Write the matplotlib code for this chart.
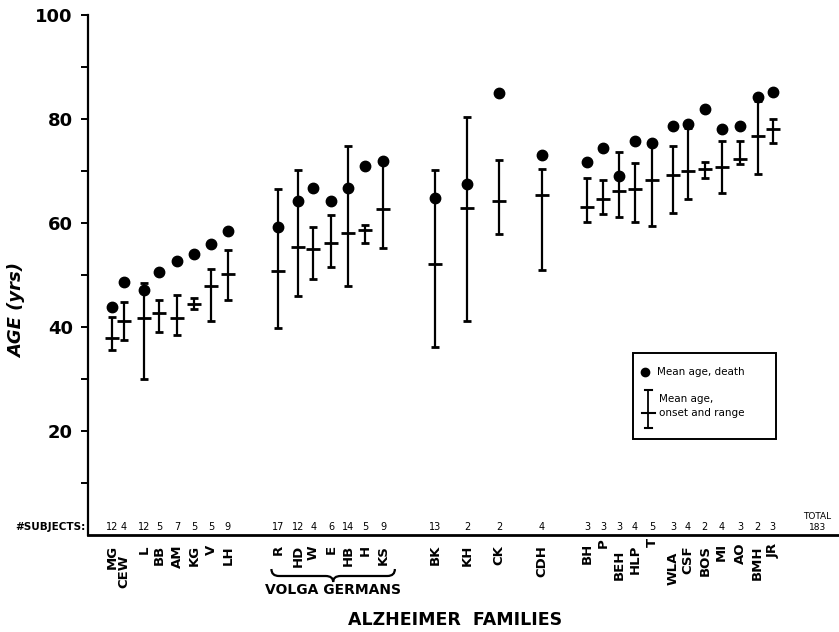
import matplotlib
matplotlib.use("Agg")
import matplotlib.pyplot as plt
import matplotlib.transforms as mtransforms
from matplotlib.path import Path
from matplotlib.patches import PathPatch, Rectangle
from matplotlib.lines import Line2D
import numpy as np

# ---------------- data ----------------
families = ['MG', 'CEW', 'L', 'BB', 'AM', 'KG', 'V', 'LH',
            'R', 'HD', 'W', 'E', 'HB', 'H', 'KS',
            'BK', 'KH', 'CK', 'CDH',
            'BH', 'P', 'BEH', 'HLP', 'T', 'WLA', 'CSF', 'BOS', 'MI', 'AO', 'BMH', 'JR']
n_subjects = [12, 4, 12, 5, 7, 5, 5, 9,
              17, 12, 4, 6, 14, 5, 9,
              13, 2, 2, 4,
              3, 3, 3, 4, 5, 3, 4, 2, 4, 3, 2, 3]
death_mean = [43.9, 48.7, 47.2, 50.6, 52.6, 54.0, 56.0, 58.5,
              59.3, 64.3, 66.7, 64.3, 66.7, 71.0, 72.0,
              64.9, 67.5, 85.0, 73.1,
              71.7, 74.4, 69.0, 75.8, 75.4, 78.7, 79.0, 81.9, 78.0, 78.7, 84.2, 85.1]
onset_mean = [37.9, 41.2, 41.7, 42.6, 41.7, 44.5, 47.9, 50.1,
              50.8, 55.3, 55.0, 56.1, 58.0, 58.7, 62.6,
              52.2, 62.8, 64.3, 65.4,
              63.0, 64.6, 66.2, 66.5, 68.3, 69.2, 70.0, 70.3, 70.8, 72.4, 76.7, 78.0]
onset_low = [35.6, 37.5, 30.0, 39.0, 38.5, 43.4, 41.2, 45.1,
             39.9, 46.0, 49.2, 51.6, 47.9, 56.2, 55.1,
             36.1, 41.2, 57.9, 51.0,
             60.1, 61.7, 61.2, 60.1, 59.4, 62.0, 64.6, 68.6, 65.7, 71.3, 69.4, 75.4]
onset_high = [42.0, 44.9, 48.5, 45.1, 46.2, 45.5, 51.2, 54.8,
              66.5, 70.2, 59.2, 61.5, 74.9, 59.7, 72.0,
              70.1, 80.3, 72.2, 70.4,
              68.6, 68.3, 73.6, 71.5, 75.5, 74.9, 78.3, 71.7, 75.8, 75.8, 83.5, 80.0]
total_subjects = '183'
volga_group = ['R', 'HD', 'W', 'E', 'HB', 'H', 'KS']

# ---------------- layout ----------------
W, H = 839, 632
x_pos = [1.0, 1.7, 2.9, 3.8, 4.9, 5.9, 6.9, 7.9,
         10.9, 12.1, 13.0, 14.05, 15.05, 16.1, 17.15,
         20.25, 22.15, 24.05, 26.6,
         29.3, 30.25, 31.2, 32.15, 33.15, 34.4, 35.3, 36.3, 37.3, 38.4, 39.45, 40.35]
total_x = 43.0
# extra downward stagger of category labels (pixels)
label_drop = {'CEW': 10, 'P': -7, 'T': -7, 'BEH': 5, 'WLA': 7, 'AO': -3,
              'MI': -2, 'JR': -2, 'BH': -2}

def fx(px):
    return px / W

def fy(py):
    return 1 - py / H

plt.rcParams['font.family'] = ['DejaVu Sans']
fig = plt.figure(figsize=(W / 100, H / 100), dpi=100)
ax = fig.add_axes([fx(88), fy(535), 1 - fx(88), (535 - 15) / H])
ax.set_xlim(-0.42, 44.29)
ax.set_ylim(0, 100)

ax.spines['top'].set_visible(False)
ax.spines['right'].set_visible(False)
ax.spines['left'].set_linewidth(1.6)
ax.spines['bottom'].set_linewidth(2.0)
ax.set_xticks([])
ax.set_yticks([20, 40, 60, 80, 100])
ax.set_yticks([10, 30, 50, 70, 90], minor=True)
ax.tick_params(axis='y', which='both', direction='out', length=5, width=1.4, pad=6)
for lab in ax.get_yticklabels():
    lab.set_fontsize(13)
    lab.set_fontweight('bold')

on = np.array(onset_mean)
lo = np.array(onset_low)
hi = np.array(onset_high)
ax.errorbar(x_pos, on, yerr=[on - lo, hi - on], fmt='_', color='black',
            ms=10, mew=2.0, elinewidth=1.6, capsize=3.2, capthick=1.6, zorder=2)
ax.plot(x_pos, death_mean, 'o', color='black', ms=7.5, zorder=3)

# subject counts
for x, n in zip(x_pos, n_subjects):
    ax.text(x, 1.5, str(n), ha='center', va='center', fontsize=7)
ax.text(total_x, 1.5, total_subjects, ha='center', va='center', fontsize=6.5)
ax.text(total_x, 3.6, 'TOTAL', ha='center', va='center', fontsize=6.5)
fig.text(fx(86), fy(527), '#SUBJECTS:', ha='right', va='center', fontsize=7.5,
         fontweight='bold')

# category labels
for x, fam in zip(x_pos, families):
    drop = 10 + label_drop.get(fam, 0)
    ax.annotate(fam, xy=(x, 0), xycoords=('data', 'axes fraction'),
                xytext=(0, -drop * 0.72), textcoords='offset points',
                rotation=90, ha='center', va='top', fontsize=9.5,
                fontweight='bold', annotation_clip=False)

# brace under Volga Germans
i0 = families.index(volga_group[0])
i1 = families.index(volga_group[-1])
bx0 = x_pos[i0] - 0.4
bx1 = x_pos[i1] + 0.7
bm = (bx0 + bx1) / 2
d = 0.45
yt, yb, ytip = fy(569), fy(576), fy(582)
verts = [(bx0, yt), (bx0, yb), (bx0 + d, yb),
         (bm - d, yb), (bm, yb), (bm, ytip),
         (bm, yb), (bm + d, yb),
         (bx1 - d, yb), (bx1, yb), (bx1, yt)]
codes = [Path.MOVETO, Path.CURVE3, Path.CURVE3,
         Path.LINETO, Path.CURVE3, Path.CURVE3,
         Path.CURVE3, Path.CURVE3,
         Path.LINETO, Path.CURVE3, Path.CURVE3]
trans = mtransforms.blended_transform_factory(ax.transData, fig.transFigure)
ax.add_patch(PathPatch(Path(verts, codes), transform=trans, fill=False,
                       lw=1.6, color='black', clip_on=False))
ax.text(bm, fy(590), 'VOLGA GERMANS', transform=trans, ha='center', va='center',
        fontsize=10, fontweight='bold', clip_on=False)

fig.text(fx(455), fy(620), 'ALZHEIMER  FAMILIES', ha='center', va='center',
         fontsize=12.5, fontweight='bold')
fig.text(fx(17), fy(311), 'AGE (yrs)', rotation=90, ha='center', va='center',
         fontsize=13, fontweight='bold', style='italic')

# legend (manual)
fig.add_artist(Rectangle((fx(633), fy(439)), fx(776) - fx(633), fy(353) - fy(439),
                         transform=fig.transFigure, fill=False, lw=1.4,
                         edgecolor='black'))
fig.add_artist(Line2D([fx(645)], [fy(372)], marker='o', ms=6, color='black',
                      transform=fig.transFigure))
fig.text(fx(657), fy(372), 'Mean age, death', ha='left', va='center', fontsize=7.5)
fig.add_artist(Line2D([fx(648), fx(648)], [fy(390), fy(428)], lw=1.3, color='black',
                      transform=fig.transFigure))
for yy, hw in ((390, 3.5), (428, 3.5), (413, 6.5)):
    fig.add_artist(Line2D([fx(648 - hw), fx(648 + hw)], [fy(yy), fy(yy)], lw=1.5,
                          color='black', transform=fig.transFigure))
fig.text(fx(659), fy(399), 'Mean age,', ha='left', va='center', fontsize=7.5)
fig.text(fx(659), fy(413), 'onset and range', ha='left', va='center', fontsize=7.5)

fig.savefig('out.png', dpi=100)
